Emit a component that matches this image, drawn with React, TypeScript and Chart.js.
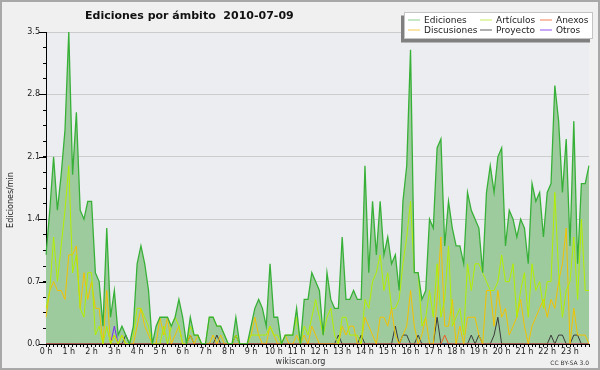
import React, { useEffect, useRef } from "react";
import { Chart, registerables } from "chart.js";

Chart.register(...registerables);

// ---- data (10-minute samples, edits per minute) ----
const times: string[] = Array.from({ length: 144 }, (_, i) => {
  const h = Math.floor(i / 6);
  const m = (i % 6) * 10;
  return `${String(h).padStart(2, "0")}:${String(m).padStart(2, "0")}`;
});

const hourLabels = [
  "0 h", "1 h", "2 h", "3 h", "4 h", "5 h", "6 h", "7 h", "8 h", "9 h", "10 h", "11 h",
  "12 h", "13 h", "14 h", "15 h", "16 h", "17 h", "18 h", "19 h", "20 h", "21 h", "22 h", "23 h",
];

const yLabelValues = [0, 0.7, 1.4, 2.1, 2.8, 3.5];

const ediciones = [
  1.0, 1.5, 2.1, 1.5, 1.9, 2.4, 3.5, 1.9, 2.6, 1.5,
  1.4, 1.6, 1.6, 0.8, 0.7, 0.2, 1.3, 0.3, 0.6, 0.1,
  0.2, 0.1, 0.0, 0.2, 0.9, 1.1, 0.9, 0.6, 0.0, 0.2,
  0.3, 0.3, 0.3, 0.2, 0.3, 0.5, 0.3, 0.0, 0.3, 0.1,
  0.1, 0.0, 0.0, 0.3, 0.3, 0.2, 0.2, 0.1, 0.0, 0.0,
  0.3, 0.0, 0.0, 0.0, 0.2, 0.4, 0.5, 0.4, 0.2, 0.9,
  0.3, 0.3, 0.0, 0.1, 0.1, 0.1, 0.4, 0.0, 0.5, 0.5,
  0.8, 0.7, 0.6, 0.1, 0.8, 0.5, 0.4, 0.4, 1.2, 0.5,
  0.5, 0.6, 0.5, 0.5, 2.0, 0.8, 1.6, 1.0, 1.6, 1.0,
  1.2, 0.9, 1.0, 0.6, 1.6, 2.0, 3.3, 0.8, 0.8, 0.5,
  0.6, 1.4, 1.3, 2.2, 2.3, 1.1, 1.6, 1.3, 1.1, 1.1,
  0.9, 1.7, 1.5, 1.4, 1.3, 0.8, 1.7, 2.0, 1.7, 2.1,
  2.2, 1.1, 1.5, 1.4, 1.2, 1.4, 1.3, 0.9, 1.8, 1.6,
  1.7, 1.2, 1.7, 1.8, 2.9, 2.5, 1.7, 2.3, 1.1, 2.5,
  0.9, 1.8, 1.8, 2.0,
];

const articulos = [
  0.4, 0.6, 1.2, 0.7, 1.1, 1.5, 2.0, 0.8, 1.0, 0.4,
  0.3, 0.8, 0.8, 0.1, 0.2, 0.0, 0.2, 0.0, 0.1, 0.0,
  0.1, 0.0, 0.0, 0.1, 0.4, 0.4, 0.3, 0.2, 0.0, 0.0,
  0.0, 0.2, 0.0, 0.2, 0.3, 0.2, 0.0, 0.0, 0.2, 0.1,
  0.1, 0.0, 0.0, 0.3, 0.3, 0.2, 0.2, 0.1, 0.0, 0.0,
  0.1, 0.0, 0.0, 0.0, 0.1, 0.1, 0.1, 0.1, 0.1, 0.2,
  0.1, 0.1, 0.0, 0.1, 0.1, 0.1, 0.3, 0.0, 0.2, 0.1,
  0.3, 0.5, 0.3, 0.1, 0.3, 0.4, 0.1, 0.0, 0.3, 0.3,
  0.1, 0.1, 0.1, 0.0, 0.5, 0.4, 0.7, 0.8, 1.0, 0.6,
  0.8, 0.4, 0.4, 0.5, 0.9, 1.2, 1.6, 0.8, 0.8, 0.2,
  0.3, 0.6, 0.3, 0.9, 0.3, 0.5, 1.1, 0.2, 0.3, 0.4,
  0.1, 0.9, 0.6, 0.9, 0.9, 0.8, 0.7, 0.6, 0.6, 0.7,
  1.0, 0.7, 0.7, 0.9, 0.3, 0.6, 0.8, 0.3, 0.9, 0.6,
  0.7, 0.4, 0.7, 0.7, 1.7, 0.8, 0.3, 0.6, 0.7, 1.2,
  0.5, 1.4, 0.6, 0.6,
];

const discusiones = [
  0.3, 0.6, 0.7, 0.6, 0.6, 0.5, 1.0, 1.0, 1.1, 0.4,
  0.8, 0.5, 0.7, 0.4, 0.4, 0.0, 0.6, 0.0, 0.1, 0.0,
  0.1, 0.0, 0.0, 0.0, 0.2, 0.4, 0.2, 0.1, 0.0, 0.0,
  0.3, 0.1, 0.3, 0.0, 0.1, 0.2, 0.0, 0.0, 0.1, 0.0,
  0.1, 0.0, 0.0, 0.0, 0.1, 0.0, 0.1, 0.0, 0.0, 0.0,
  0.0, 0.0, 0.0, 0.0, 0.1, 0.3, 0.1, 0.0, 0.0, 0.2,
  0.1, 0.0, 0.0, 0.1, 0.0, 0.0, 0.1, 0.0, 0.1, 0.0,
  0.2, 0.1, 0.0, 0.0, 0.0, 0.0, 0.0, 0.0, 0.2, 0.1,
  0.2, 0.2, 0.0, 0.0, 0.3, 0.2, 0.1, 0.0, 0.3, 0.3,
  0.2, 0.4, 0.1, 0.0, 0.1, 0.2, 0.6, 0.2, 0.0, 0.1,
  0.3, 0.0, 0.0, 0.5, 1.2, 0.2, 0.2, 0.5, 0.0, 0.2,
  0.0, 0.3, 0.3, 0.3, 0.1, 0.0, 0.6, 0.6, 0.2, 0.6,
  0.3, 0.4, 0.1, 0.2, 0.3, 0.5, 0.2, 0.0, 0.2, 0.3,
  0.4, 0.5, 0.3, 0.5, 0.4, 0.7, 0.9, 1.3, 0.0, 0.4,
  0.1, 0.1, 0.1, 0.0,
];

const proyecto = [
  0, 0, 0, 0, 0, 0, 0, 0, 0, 0,
  0, 0, 0, 0, 0, 0, 0, 0, 0, 0,
  0, 0.1, 0, 0, 0, 0, 0, 0, 0, 0,
  0, 0, 0, 0, 0, 0, 0, 0, 0.1, 0,
  0, 0, 0, 0, 0, 0.1, 0, 0, 0, 0,
  0.1, 0, 0, 0, 0, 0, 0, 0, 0, 0,
  0, 0, 0, 0, 0, 0, 0, 0, 0, 0,
  0, 0, 0, 0, 0, 0, 0, 0.1, 0, 0,
  0, 0, 0, 0.1, 0, 0, 0, 0, 0, 0,
  0, 0, 0.2, 0, 0.1, 0.1, 0, 0, 0.1, 0,
  0, 0, 0, 0.3, 0, 0, 0, 0, 0, 0,
  0, 0, 0.1, 0, 0.1, 0, 0, 0, 0.1, 0.3,
  0, 0, 0, 0, 0, 0, 0, 0, 0, 0,
  0, 0, 0, 0.1, 0, 0.1, 0.1, 0, 0, 0.1,
  0.1, 0, 0, 0,
];

const anexos = [
  0, 0, 0, 0, 0, 0, 0, 0, 0, 0,
  0, 0, 0, 0, 0, 0, 0, 0, 0, 0,
  0, 0, 0, 0, 0, 0, 0, 0, 0, 0,
  0, 0, 0, 0, 0, 0, 0, 0, 0, 0,
  0, 0, 0, 0, 0, 0, 0, 0, 0, 0,
  0, 0, 0, 0, 0, 0, 0, 0, 0, 0,
  0, 0, 0, 0, 0, 0, 0, 0, 0, 0,
  0, 0, 0, 0, 0, 0, 0, 0, 0, 0,
  0, 0, 0, 0, 0, 0, 0, 0, 0, 0,
  0, 0, 0, 0, 0, 0, 0, 0, 0, 0,
  0, 0, 0, 0, 0, 0.1, 0, 0, 0, 0,
  0, 0, 0, 0, 0, 0, 0, 0, 0, 0,
  0, 0, 0, 0, 0, 0, 0, 0, 0, 0,
  0, 0, 0, 0, 0, 0, 0, 0, 0, 0,
  0, 0, 0, 0,
];

const otros = [
  0, 0, 0, 0, 0, 0, 0, 0, 0, 0,
  0, 0, 0, 0, 0, 0, 0, 0, 0.2, 0,
  0, 0, 0, 0, 0, 0, 0, 0, 0, 0,
  0, 0, 0, 0, 0, 0, 0, 0, 0, 0,
  0, 0, 0, 0, 0, 0, 0, 0, 0, 0,
  0, 0, 0, 0, 0, 0, 0, 0, 0, 0,
  0, 0, 0, 0, 0, 0, 0, 0, 0, 0,
  0, 0, 0, 0, 0, 0, 0, 0, 0, 0,
  0, 0, 0, 0, 0, 0, 0, 0, 0, 0,
  0, 0, 0, 0, 0, 0, 0, 0, 0, 0,
  0, 0, 0, 0, 0, 0, 0, 0, 0, 0,
  0, 0, 0, 0, 0, 0, 0, 0, 0, 0,
  0, 0, 0, 0, 0, 0, 0, 0, 0, 0,
  0, 0, 0, 0, 0, 0, 0, 0, 0, 0,
  0, 0, 0, 0,
];

const TITLE = "Ediciones por ámbito  2010-07-09";
const Y_TITLE = "Ediciones/min";
const FOOTER = "wikiscan.org";
const LICENSE = "CC BY-SA 3.0";

const FONT = "'DejaVu Sans', sans-serif";

const framePlugin = {
  id: "frame",
  beforeDraw(chart: any) {
    const { ctx, chartArea: a, width, height } = chart;
    ctx.save();
    ctx.fillStyle = "#f0f0f0";
    ctx.fillRect(0, 0, width, height);
    ctx.strokeStyle = "#a8a8a8";
    ctx.lineWidth = 2;
    ctx.strokeRect(1, 1, width - 2, height - 2);
    ctx.fillStyle = "#ecedf0";
    ctx.fillRect(a.left, a.top, a.right - a.left, a.bottom - a.top);
    ctx.restore();
  },
  afterDraw(chart: any) {
    const { ctx, chartArea: a } = chart;
    const ys = chart.scales.y;
    ctx.save();
    // longer major ticks on the y axis
    ctx.strokeStyle = "#000";
    ctx.lineWidth = 1;
    for (const v of yLabelValues) {
      const y = Math.round(ys.getPixelForValue(v)) + 0.5;
      ctx.beginPath();
      ctx.moveTo(a.left - 7, y);
      ctx.lineTo(a.left, y);
      ctx.stroke();
    }
    // title
    ctx.fillStyle = "#111";
    ctx.font = `bold 11px ${FONT}`;
    ctx.textAlign = "left";
    ctx.textBaseline = "alphabetic";
    ctx.fillText(TITLE, 85, 18.5);
    // y title
    ctx.save();
    ctx.translate(11, 200);
    ctx.rotate(-Math.PI / 2);
    ctx.font = `8px ${FONT}`;
    ctx.fillStyle = "#222";
    ctx.textAlign = "center";
    ctx.textBaseline = "middle";
    ctx.fillText(Y_TITLE, 0, 0);
    ctx.restore();
    // footer
    ctx.font = `8px ${FONT}`;
    ctx.fillStyle = "#333";
    ctx.textAlign = "center";
    ctx.fillText(FOOTER, 300.5, 364);
    ctx.font = `6px ${FONT}`;
    ctx.textAlign = "right";
    ctx.fillText(LICENSE, 589, 364.5);
    // legend box
    ctx.fillStyle = "#808080";
    ctx.fillRect(401, 15.5, 189, 27);
    ctx.fillStyle = "#ffffff";
    ctx.fillRect(404, 12, 189, 27);
    ctx.strokeStyle = "#c4c4c4";
    ctx.lineWidth = 1;
    ctx.strokeRect(404.5, 12.5, 188, 26);
    const colX = [408, 480, 540];
    const rowY = [19.5, 29.5];
    ctx.font = `9px ${FONT}`;
    ctx.textAlign = "left";
    ctx.textBaseline = "middle";
    chart.data.datasets.forEach((ds: any, i: number) => {
      const x = colX[i % 3];
      const y = rowY[Math.floor(i / 3)];
      ctx.strokeStyle = ds.legendColor || ds.borderColor;
      ctx.lineWidth = 1;
      ctx.beginPath();
      ctx.moveTo(x, y + 0.5);
      ctx.lineTo(x + 12, y + 0.5);
      ctx.stroke();
      ctx.fillStyle = "#222";
      ctx.fillText(ds.label, x + 16, y + 1);
    });
    ctx.restore();
  },
};

export default function App() {
  const ref = useRef<HTMLCanvasElement | null>(null);

  useEffect(() => {
    document.body.style.margin = "0";
    const canvas = ref.current;
    if (!canvas) return;
    const lineDs = (label: string, data: number[], color: string, extra: any = {}) => ({
      label,
      data,
      borderColor: color,
      borderWidth: 1,
      pointRadius: 0,
      tension: 0,
      fill: false,
      ...extra,
    });
    const chart = new Chart(canvas, {
      type: "line",
      data: {
        labels: times,
        datasets: [
          lineDs("Ediciones", ediciones, "#37b037", {
            fill: "origin",
            backgroundColor: "rgb(158,203,158)",
            borderWidth: 1.3,
            legendColor: "#8fd08f",
          }),
          lineDs("Artículos", articulos, "#b2ee00", { legendColor: "#c8ee60" }),
          lineDs("Anexos", anexos, "#f05a1e", { legendColor: "#f08050" }),
          lineDs("Discusiones", discusiones, "#f2c200", { legendColor: "#f5cc50" }),
          lineDs("Proyecto", proyecto, "#3a3a3a", { legendColor: "#606060" }),
          lineDs("Otros", otros, "#7a2cf0", { legendColor: "#9050f0" }),
        ],
      },
      options: {
        responsive: false,
        animation: false,
        devicePixelRatio: 1,
        layout: { padding: { top: 32, right: 11, bottom: 0, left: 0 } },
        plugins: {
          legend: { display: false },
          tooltip: { enabled: false },
          title: { display: false },
          filler: { drawTime: "beforeDatasetsDraw" },
        } as any,
        scales: {
          x: {
            type: "category",
            offset: false,
            afterFit: (s: any) => {
              s.height = 26;
            },
            ticks: {
              autoSkip: false,
              maxRotation: 0,
              minRotation: 0,
              padding: 0,
              color: "#222",
              font: { family: FONT, size: 8 },
              callback: (_v: any, i: number) => (i % 6 === 0 ? hourLabels[i / 6] : ""),
            },
            grid: {
              drawOnChartArea: false,
              drawTicks: true,
              tickLength: 3,
              tickColor: "#000",
            },
            border: { display: true, color: "#000", width: 1 },
          },
          y: {
            type: "linear",
            min: 0,
            max: 3.5,
            afterFit: (s: any) => {
              s.width = 46;
            },
            afterBuildTicks: (s: any) => {
              s.ticks = Array.from({ length: 21 }, (_, k) => ({ value: k * 0.175 }));
            },
            ticks: {
              autoSkip: false,
              padding: 3,
              color: "#222",
              font: { family: FONT, size: 8 },
              callback: (v: any, i: number) => (i % 4 === 0 ? Number(v).toFixed(1) : ""),
            },
            grid: {
              drawTicks: true,
              tickLength: 3,
              tickColor: "#000",
              color: (c: any) => (c.index % 4 === 0 && c.index > 0 ? "#cccccc" : "rgba(0,0,0,0)"),
            },
            border: { display: true, color: "#000", width: 1 },
          },
        },
      } as any,
      plugins: [framePlugin],
    });
    return () => chart.destroy();
  }, []);

  return <canvas ref={ref} width={600} height={370} style={{ display: "block" }} />;
}
